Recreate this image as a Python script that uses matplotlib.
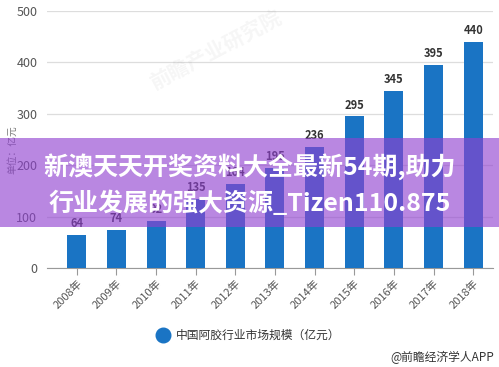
import numpy as np
import matplotlib
matplotlib.use('Agg')
import matplotlib.pyplot as plt
from matplotlib.patches import Rectangle

plt.rcParams['font.family'] = ['Noto Sans CJK SC', 'DejaVu Sans']

years = ['2008年', '2009年', '2010年', '2011年', '2012年', '2013年',
         '2014年', '2015年', '2016年', '2017年', '2018年']
values = [64, 74, 92, 135, 164, 195, 236, 295, 345, 395, 440]
yticks = [0, 100, 200, 300, 400, 500]

bar_color = '#1a74c4'

fig = plt.figure(figsize=(4.99, 3.67), dpi=100)
ax = fig.add_axes([47 / 499, 1 - 268 / 367, (493 - 47) / 499, (268 - 11) / 367])

x = np.arange(len(years))
ax.bar(x, values, width=0.48, color=bar_color, zorder=3)
for xi, v in zip(x, values):
    ax.text(xi, v + 9, str(v), ha='center', va='bottom', fontsize=8,
            fontweight='bold', color='#333333', zorder=4)

ax.set_xlim(-0.75, 10.5)
ax.set_ylim(0, 500)
ax.set_yticks(yticks)
ax.set_yticklabels([str(t) for t in yticks], fontsize=9, color='#555555')
ax.set_xticks(x)
ax.set_xticklabels(years, rotation=45, ha='right', rotation_mode='anchor',
                   fontsize=8, color='#555555')
ax.tick_params(axis='y', length=0, pad=7)
ax.tick_params(axis='x', length=5, color='#999999', pad=2)
ax.grid(axis='y', color='#dddddd', linewidth=0.9, zorder=0)
for s in ['top', 'right', 'left']:
    ax.spines[s].set_visible(False)
ax.spines['bottom'].set_color('#999999')

fig.text(12 / 499, 1 - 150 / 367, '单位：亿元', rotation=90, ha='center',
         va='center', fontsize=7, color='#777777')

# faint watermark
fig.text(215 / 499, 1 - 50 / 367, '前瞻产业研究院', rotation=28, ha='center',
         va='center', fontsize=15, color='#000000', alpha=0.04, fontweight='bold')

# legend
fig.lines.append(plt.Line2D([163 / 499], [1 - 335 / 367], marker='o',
                            markersize=10.5, color=bar_color, linestyle='None',
                            transform=fig.transFigure))
fig.text(176 / 499, 1 - 335 / 367, '中国阿胶行业市场规模（亿元）', ha='left',
         va='center', fontsize=8.5, color='#333333')
fig.text(494 / 499, 1 - 357 / 367, '@前瞻经济学人APP', ha='right', va='center',
         fontsize=8.5, color='#333333')

# banner
fig.patches.append(Rectangle((0, 1 - 227 / 367), 1, 89 / 367,
                             transform=fig.transFigure, facecolor=(144 / 255, 65 / 255, 208 / 255),
                             alpha=0.63, edgecolor='none', zorder=10))
fig.text(0.5, 1 - 167 / 367, '新澳天天开奖资料大全最新54期,助力', ha='center',
         va='center', fontsize=18, fontweight='bold', color='white', zorder=11)
fig.text(0.5, 1 - 203 / 367, '行业发展的强大资源_Tizen110.875', ha='center',
         va='center', fontsize=18, fontweight='bold', color='white', zorder=11)

fig.savefig('out.png', dpi=100)
